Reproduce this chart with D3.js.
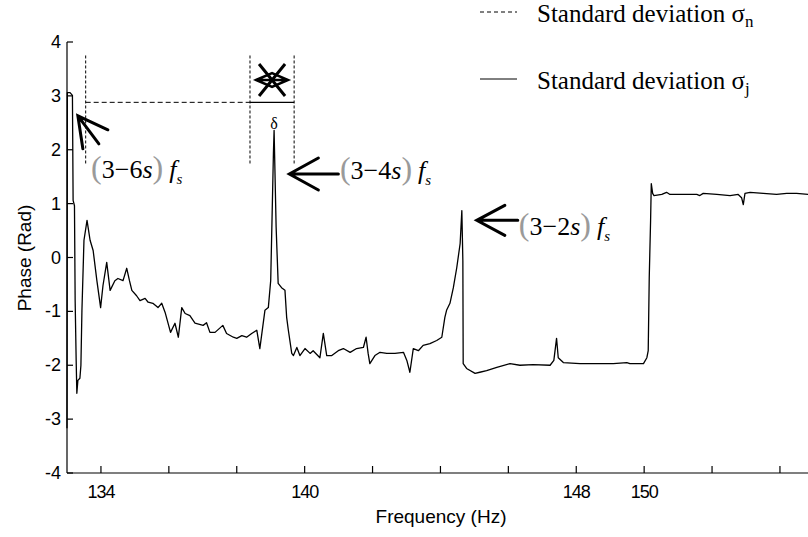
<!DOCTYPE html>
<html>
<head>
<meta charset="utf-8">
<script src="https://cdn.jsdelivr.net/npm/d3@7/dist/d3.min.js"></script>
<style>
  body { margin: 0; background: #fff; }
  svg { display: block; }
</style>
</head>
<body>
<div id="chart"></div>
<script>
// phase trace (Hz, rad)
var freq = [133.00, 133.01, 133.09, 133.16, 133.18, 133.22, 133.24, 133.27, 133.29, 133.32,
  133.38, 133.41, 133.44, 133.50, 133.59, 133.68, 133.77, 133.88, 133.99, 134.06,
  134.17, 134.27, 134.41, 134.50, 134.65, 134.76, 134.84, 134.91, 135.05, 135.15,
  135.30, 135.39, 135.53, 135.68, 135.79, 135.89, 136.05, 136.18, 136.28, 136.38,
  136.48, 136.62, 136.77, 137.01, 137.11, 137.21, 137.36, 137.59, 137.70, 137.90,
  138.00, 138.15, 138.29, 138.44, 138.59, 138.68, 138.83, 138.93, 139.00, 139.04,
  139.08, 139.10, 139.16, 139.22, 139.32, 139.42, 139.47, 139.52, 139.62, 139.67,
  139.77, 139.86, 140.01, 140.16, 140.25, 140.45, 140.55, 140.65, 140.80, 140.99,
  141.14, 141.34, 141.53, 141.73, 141.81, 141.87, 141.92, 142.07, 142.22, 142.42,
  142.66, 142.91, 143.01, 143.10, 143.20, 143.35, 143.49, 143.69, 143.89, 144.04,
  144.13, 144.18, 144.28, 144.38, 144.48, 144.58, 144.63, 144.66, 144.67, 144.77,
  145.02, 145.16, 145.36, 145.66, 146.05, 146.34, 146.73, 147.23, 147.34, 147.42,
  147.47, 147.62, 148.11, 149.09, 149.49, 149.58, 149.98, 150.08, 150.12, 150.15,
  150.19, 150.21, 150.25, 150.29, 150.52, 150.66, 150.76, 151.06, 151.55, 151.64,
  151.74, 152.14, 152.53, 152.77, 152.87, 152.92, 152.97, 153.12, 153.51, 153.90,
  154.20, 154.49, 154.83];
var phase = [-3.17, 3.06, 3.06, 3.01, 1.06, 0.96, -0.80, -1.91, -2.52, -2.28,
  -2.24, -2.00, -0.98, 0.32, 0.69, 0.32, 0.13, -0.43, -0.93, -0.52,
  -0.09, -0.61, -0.43, -0.39, -0.43, -0.20, -0.43, -0.61, -0.71, -0.80,
  -0.76, -0.83, -0.85, -0.93, -0.85, -1.02, -1.39, -1.22, -1.48, -0.93,
  -1.04, -1.08, -1.22, -1.26, -1.21, -1.39, -1.39, -1.26, -1.41, -1.48,
  -1.50, -1.45, -1.48, -1.41, -1.35, -1.69, -0.98, -0.93, -0.43, 0.74,
  1.93, 2.36, 0.56, -0.48, -0.56, -0.61, -1.11, -1.35, -1.78, -1.82,
  -1.67, -1.82, -1.69, -1.78, -1.73, -1.86, -1.41, -1.82, -1.82, -1.73,
  -1.69, -1.76, -1.69, -1.67, -1.48, -1.78, -1.97, -1.82, -1.76, -1.78,
  -1.78, -1.76, -1.91, -2.13, -1.69, -1.73, -1.63, -1.60, -1.54, -1.48,
  -1.11, -0.98, -0.85, -0.56, -0.19, 0.26, 0.87, -0.06, -1.97, -2.06,
  -2.15, -2.13, -2.10, -2.04, -1.97, -2.00, -1.99, -2.00, -1.91, -1.50,
  -1.86, -1.95, -1.97, -1.97, -1.95, -1.97, -1.97, -1.86, -1.73, -0.37,
  0.69, 1.37, 1.19, 1.15, 1.17, 1.21, 1.17, 1.17, 1.17, 1.15,
  1.19, 1.17, 1.15, 1.17, 1.11, 0.98, 1.19, 1.21, 1.19, 1.17,
  1.19, 1.19, 1.17];

var xTicks = [134, 136, 138, 140, 142, 144, 146, 148, 150, 152, 154];
var xTickLabels = {134: "134", 140: "140", 148: "148", 150: "150"};
var yTicks = [-4, -3, -2, -1, 0, 1, 2, 3, 4];

// sideband labels: prefix digit part, tip of arrow (Hz, rad)
var peakNames = ["3\u22126", "3\u22124", "3\u22122"];
var arrowTips = [[133.32, 2.63], [139.55, 1.55], [145.07, 0.69]];
var labelAnchors = [[133.71, 1.48], [141.04, 1.46], [146.31, 0.41]];

var legendNames = ["Standard deviation \u03c3", "Standard deviation \u03c3"];
var legendSubs = ["n", "j"];

var W = 808, H = 537;
var svg = d3.select("#chart").append("svg").attr("width", W).attr("height", H);

var x = d3.scaleLinear().domain([133, 155]).range([67, 67 + 22 * 33.95]);
var y = d3.scaleLinear().domain([-4, 4]).range([473, 42]);

// axes, MATLAB style ticks pointing inward
var axes = svg.append("g").attr("stroke", "#000").attr("stroke-width", 1.2);
axes.append("line").attr("x1", x(133)).attr("x2", W).attr("y1", y(-4)).attr("y2", y(-4));
axes.append("line").attr("x1", x(133)).attr("x2", x(133)).attr("y1", y(-4)).attr("y2", y(4));
axes.selectAll(".xt").data(xTicks).enter().append("line")
  .attr("x1", function(d){ return x(d); }).attr("x2", function(d){ return x(d); })
  .attr("y1", y(-4)).attr("y2", y(-4) - 7);
axes.selectAll(".yt").data(yTicks).enter().append("line")
  .attr("x1", x(133)).attr("x2", x(133) + 6)
  .attr("y1", function(d){ return y(d); }).attr("y2", function(d){ return y(d); });

var tickFont = "'Liberation Sans', Arial, sans-serif";
svg.append("g").selectAll("text").data(xTicks.filter(function(d){ return xTickLabels[d]; }))
  .enter().append("text")
  .attr("x", function(d){ return x(d); }).attr("y", 498)
  .attr("text-anchor", "middle").attr("font-family", tickFont).attr("font-size", 18)
  .attr("letter-spacing", -1)
  .text(function(d){ return xTickLabels[d]; });
svg.append("g").selectAll("text").data(yTicks).enter().append("text")
  .attr("x", 61).attr("y", function(d){ return y(d) + 6; })
  .attr("text-anchor", "end").attr("font-family", tickFont).attr("font-size", 18)
  .text(function(d){ return d; });

svg.append("text").attr("x", 441).attr("y", 523).attr("text-anchor", "middle")
  .attr("font-family", tickFont).attr("font-size", 19).text("Frequency (Hz)");
svg.append("text").attr("transform", "translate(31,258) rotate(-90)").attr("text-anchor", "middle")
  .attr("font-family", tickFont).attr("font-size", 19).text("Phase (Rad)");

// trace
var pts = freq.map(function(f, i){ return [f, phase[i]]; });
svg.append("path").datum(pts)
  .attr("fill", "none").attr("stroke", "#000").attr("stroke-width", 1.3)
  .attr("stroke-linejoin", "round")
  .attr("d", d3.line().x(function(d){ return x(d[0]); }).y(function(d){ return y(d[1]); }));

// delta bracket
var ann = svg.append("g").attr("stroke", "#000").attr("fill", "none");
var fL = 133.55, fA = 138.39, fB = 139.69, lvl = 2.88;
[fL, fA, fB].forEach(function(f){
  ann.append("line").attr("x1", x(f)).attr("x2", x(f)).attr("y1", y(3.75)).attr("y2", y(1.71))
    .attr("stroke-width", 1).attr("stroke-dasharray", "3,2");
});
ann.append("line").attr("x1", x(fL)).attr("x2", x(fA)).attr("y1", y(lvl)).attr("y2", y(lvl))
  .attr("stroke-width", 1).attr("stroke-dasharray", "5,3");
ann.append("line").attr("x1", x(fA)).attr("x2", x(fB)).attr("y1", y(lvl)).attr("y2", y(lvl))
  .attr("stroke-width", 1.2);

// crossed marker above the bracket
var cx = x((fA + fB) / 2), cy = 80;
ann.append("path").attr("stroke-width", 3)
  .attr("d", "M" + (cx - 13) + "," + (cy - 16) + "L" + (cx + 13) + "," + (cy + 16) +
             "M" + (cx + 13) + "," + (cy - 16) + "L" + (cx - 13) + "," + (cy + 16));
ann.append("path").attr("stroke-width", 2.5)
  .attr("d", "M" + (cx - 16) + "," + cy + "L" + cx + "," + (cy - 7) + "L" + (cx + 16) + "," + cy +
             "L" + cx + "," + (cy + 7) + "Z M" + (cx - 14) + "," + cy + "L" + (cx + 14) + "," + cy);

svg.append("text").attr("x", x(139.10)).attr("y", 129).attr("text-anchor", "middle")
  .attr("font-family", "'Liberation Serif', serif").attr("font-size", 16).text("\u03b4");

// arrows: shaft and head offsets in px from each tip
var arrowGeo = [
  {shaft: [21, 28], a1: [30, 14], a2: [5, 33]},
  {shaft: [49, 0], a1: [29, -16], a2: [29, 16]},
  {shaft: [41, 0], a1: [28, -15], a2: [28, 15]}
];
arrowTips.forEach(function(t, i){
  var tx = x(t[0]), ty = y(t[1]), g = arrowGeo[i];
  svg.append("path").attr("fill", "none").attr("stroke", "#000").attr("stroke-width", 3)
    .attr("stroke-linecap", "round")
    .attr("d", "M" + tx + "," + ty + "L" + (tx + g.shaft[0]) + "," + (ty + g.shaft[1]) +
               "M" + (tx + g.a1[0]) + "," + (ty + g.a1[1]) + "L" + tx + "," + ty +
               "L" + (tx + g.a2[0]) + "," + (ty + g.a2[1]));
});

// (3-ks) f_s labels
var serif = "'Liberation Serif', 'Times New Roman', serif";
labelAnchors.forEach(function(a, i){
  var t = svg.append("text").attr("x", x(a[0])).attr("y", y(a[1]))
    .attr("font-family", serif).attr("font-size", 26);
  t.append("tspan").attr("fill", "#9a9a9a").attr("font-size", 32).text("(");
  t.append("tspan").text(peakNames[i]);
  t.append("tspan").attr("font-style", "italic").text("s");
  t.append("tspan").attr("fill", "#9a9a9a").attr("font-size", 32).text(")");
  t.append("tspan").attr("font-style", "italic").attr("dx", 6).text("f");
  t.append("tspan").attr("font-style", "italic").attr("font-size", 15).attr("dy", 6).text("s");
});

// legend
var legY = [12, 79];
legY.forEach(function(ly, i){
  svg.append("line").attr("x1", 480).attr("x2", 517).attr("y1", ly).attr("y2", ly)
    .attr("stroke", "#000").attr("stroke-width", 1)
    .attr("stroke-dasharray", i === 0 ? "4,3" : null);
  var t = svg.append("text").attr("x", 537).attr("y", ly + 10)
    .attr("font-family", serif).attr("font-size", 25);
  t.append("tspan").text(legendNames[i]);
  t.append("tspan").attr("font-size", 17).attr("dy", 5).text(legendSubs[i]);
});
</script>
</body>
</html>
